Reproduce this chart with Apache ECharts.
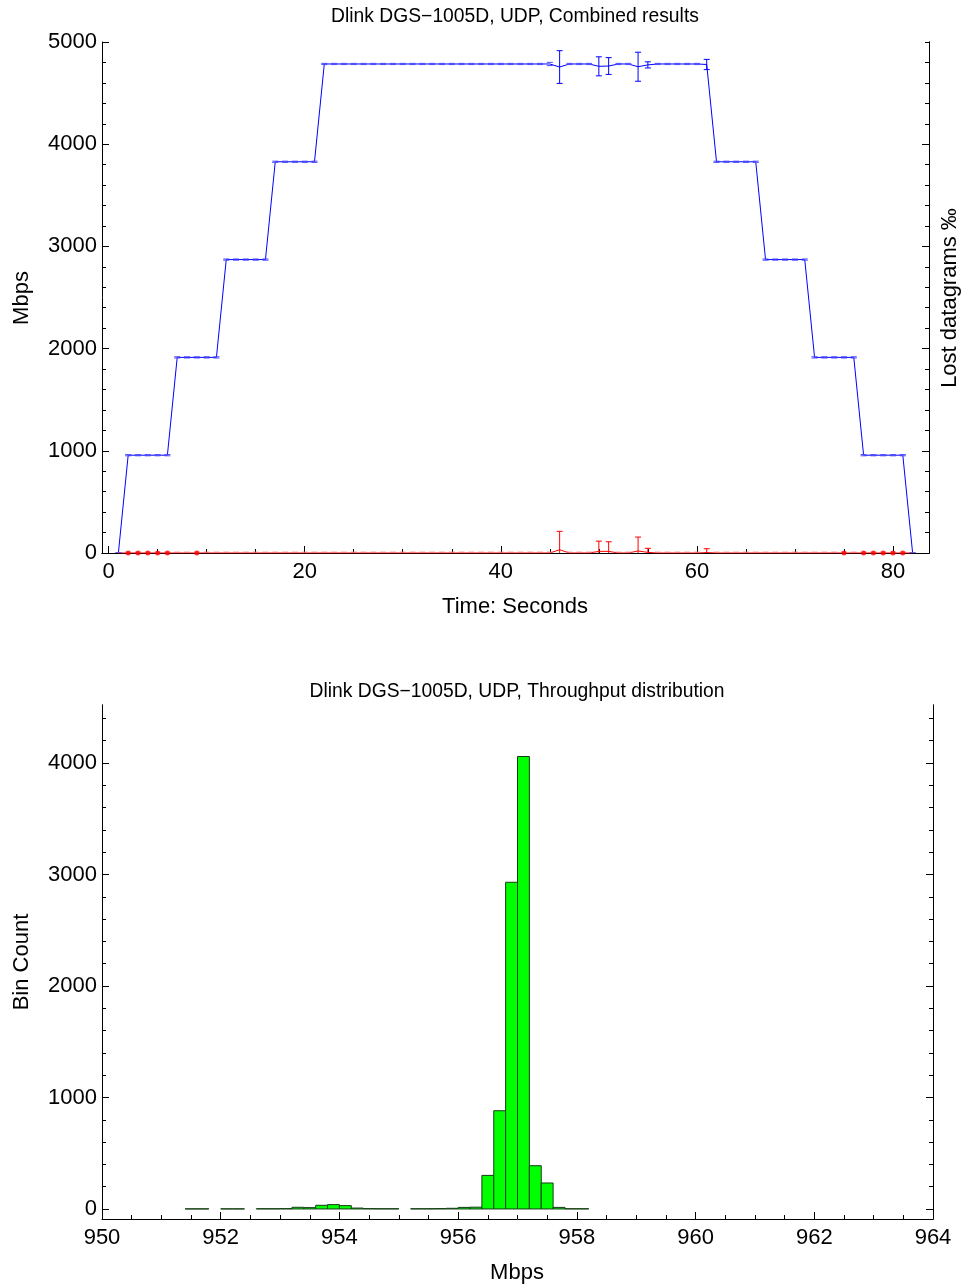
<!DOCTYPE html>
<html><head><meta charset="utf-8">
<script src="https://cdn.jsdelivr.net/npm/echarts@6/dist/echarts.min.js"></script>
<style>html,body{margin:0;padding:0;background:#fff}#c{width:962px;height:1287px}</style>
</head><body><div id="c"></div>
<script>
// ---------- data: top chart (per-second samples) ----------
const times = [1,2,3,4,5,6,7,8,9,10,11,12,13,14,15,16,17,18,19,20,21,22,23,24,25,26,27,28,29,30,31,32,33,34,35,36,37,38,39,40,41,42,43,44,45,46,47,48,49,50,51,52,53,54,55,56,57,58,59,60,61,62,63,64,65,66,67,68,69,70,71,72,73,74,75,76,77,78,79,80,81,82];
const throughput = [
  0,
  957,957,957,957,957,
  1914,1914,1914,1914,1914,
  2871,2871,2871,2871,2871,
  3828,3828,3828,3828,3828,
  4785,4785,4785,4785,4785,4785,4785,4785,4785,4785,4785,4785,4785,4785,4785,4785,4785,4785,4785,4785,4785,4785,4785,
  4785,4755,4785,4785,4785,4762,4765,4785,4785,4758,4776,4785,4785,4785,4785,4785,4780,
  3828,3828,3828,3828,3828,
  2871,2871,2871,2871,2871,
  1914,1914,1914,1914,1914,
  957,957,957,957,957,
  0];
const throughputErr = [
  0,
  6,6,6,6,6,
  6,6,6,6,6,
  6,6,6,6,6,
  6,6,6,6,6,
  6,6,6,6,6,6,6,6,6,6,6,6,6,6,6,6,6,6,6,6,6,6,6,
  16,160,6,6,6,93,82,6,6,142,30,6,6,6,6,6,50,
  6,6,6,6,6,
  6,6,6,6,6,
  6,6,6,6,6,
  6,6,6,6,6,
  0];
const lost = [
  0,
  0,0,0,0,0,
  0,0,0,0,0,
  0,0,0,0,0,
  0,0,0,0,0,
  0,0,0,0,0,0,0,0,0,0,0,0,0,0,0,0,0,0,0,0,0,0,0,
  0,0.016,0,0,0,0.008,0.008,0,0,0.01,0.003,0,0,0,0,0,0.002,
  0,0,0,0,0,
  0,0,0,0,0,
  0,0,0,0,0,
  0,0,0,0,0,
  0];
const lostErr = [
  0,
  0.004,0.004,0.004,0.004,0.004,
  0.004,0.004,0.004,0.004,0.004,
  0.004,0.004,0.004,0.004,0.004,
  0.004,0.004,0.004,0.004,0.004,
  0.004,0.004,0.004,0.004,0.004,0.004,0.004,0.004,0.004,0.004,0.004,0.004,0.004,0.004,0.004,0.004,0.004,0.004,0.004,0.004,0.004,0.004,0.004,
  0.004,0.09,0.004,0.004,0.004,0.05,0.047,0.004,0.004,0.068,0.02,0.004,0.004,0.004,0.004,0.004,0.019,
  0.004,0.004,0.004,0.004,0.004,
  0.004,0.004,0.004,0.004,0.004,
  0.004,0.004,0.004,0.004,0.004,
  0.004,0.004,0.004,0.004,0.004,
  0];
const lostDotTimes = [2,3,4,5,6,9,75,77,78,79,80,81];

// ---------- data: histogram ----------
const binStart = [951.4,951.6,952.0,952.2,952.6,952.8,953.0,953.2,953.4,953.6,953.8,954.0,954.2,954.4,954.6,954.8,955.2,955.4,955.6,955.8,956.0,956.2,956.4,956.6,956.8,957.0,957.2,957.4,957.6,957.8,958.0];
const binCount = [1,1,1,1,2,2,3,15,12,33,39,30,8,3,2,2,2,2,3,6,14,16,301,881,2930,4058,388,233,14,2,2];
const binWidth = 0.2;

// ---------- ticks ----------
const timeTicks = [0,20,40,60,80];
const timeMinorTicks = [0,5,10,15,20,25,30,35,40,45,50,55,60,65,70,75,80];
const lostMajorTicks = [0.5,1.0,1.5,2.0];
const countTicks = [0,1000,2000,3000,4000];
const countMinorTicks = [0,200,400,600,800,1000,1200,1400,1600,1800,2000,2200,2400,2600,2800,3000,3200,3400,3600,3800,4000,4200,4400];

const FONT = 'Liberation Sans, Arial, sans-serif';
const BLACK = '#000';
const chart = echarts.init(document.getElementById('c'), null, {renderer:'canvas'});

function axisBase(extra) {
  return Object.assign({
    axisLine:{show:true,onZero:false,lineStyle:{color:BLACK,width:1}},
    splitLine:{show:false},
    minorSplitLine:{show:false}
  }, extra);
}
const plain = v => String(v);
const lbl = (extra) => Object.assign({color:BLACK,fontFamily:FONT,fontSize:22,formatter:plain}, extra);

function errRender(color, lightColor, capHalf) {
  return function(params, api) {
    const t = api.value(0), v = api.value(1), e = api.value(2);
    const lo = api.coord([t, v - e]), hi = api.coord([t, v + e]);
    const x = lo[0];
    const big = Math.abs(lo[1] - hi[1]) > 4;
    const c = big ? color : lightColor;
    const children = [];
    if (big) children.push({type:'line',shape:{x1:x,y1:lo[1],x2:x,y2:hi[1]},style:{stroke:c,lineWidth:1}});
    children.push({type:'line',shape:{x1:x-capHalf,y1:lo[1],x2:x+capHalf,y2:lo[1]},style:{stroke:c,lineWidth:1}});
    children.push({type:'line',shape:{x1:x-capHalf,y1:hi[1],x2:x+capHalf,y2:hi[1]},style:{stroke:c,lineWidth:1}});
    return {type:'group',children};
  };
}

const blueLine = times.map((t,i)=>[t, throughput[i]]);
const blueErr = times.map((t,i)=>[t, throughput[i], throughputErr[i]]);
const redLine = times.map((t,i)=>[t, lost[i]]);
const redErr = times.map((t,i)=>[t, lost[i], lostErr[i]]);
const redDots = lostDotTimes.map(t=>[t, lost[times.indexOf(t)]]);
const histData = binStart.map((s,i)=>[s, binCount[i]]).filter(d=>d[1]>0);

const option = {
  animation:false,
  backgroundColor:'#fff',
  grid:[
    {left:102, top:42, width:827, height:511, containLabel:false},
    {left:102, top:705, width:831, height:514, containLabel:false}
  ],
  xAxis:[
    axisBase({type:'value',gridIndex:0,position:'bottom',min:-0.67,max:83.67,
      axisTick:{show:true,inside:true,length:7,customValues:timeTicks,lineStyle:{color:BLACK}},
      axisLabel:lbl({customValues:timeTicks,margin:8})}),
    axisBase({type:'value',gridIndex:0,position:'bottom',min:-0.67,max:83.67,
      axisTick:{show:true,inside:true,length:4,customValues:timeMinorTicks,lineStyle:{color:BLACK}},
      axisLabel:{show:false}}),
    axisBase({type:'value',gridIndex:1,position:'bottom',min:950,max:964,interval:2,
      axisTick:{show:true,inside:true,length:7,lineStyle:{color:BLACK}},
      minorTick:{show:true,splitNumber:4,length:4,lineStyle:{color:BLACK}},
      axisLabel:lbl({margin:8,showMinLabel:true,showMaxLabel:true})})
  ],
  yAxis:[
    axisBase({type:'value',gridIndex:0,position:'left',min:0,max:5000,interval:1000,
      axisTick:{show:true,inside:true,length:7,lineStyle:{color:BLACK}},
      minorTick:{show:true,splitNumber:5,length:4,lineStyle:{color:BLACK}},
      axisLabel:lbl({margin:5})}),
    axisBase({type:'value',gridIndex:0,position:'right',min:0,max:2.5,
      axisTick:{show:true,inside:true,length:7,customValues:lostMajorTicks,lineStyle:{color:BLACK}},
      axisLabel:{show:false}}),
    axisBase({type:'value',gridIndex:0,position:'right',min:0,max:2.5,interval:0.1,
      axisTick:{show:true,inside:true,length:4,lineStyle:{color:BLACK}},
      axisLabel:{show:false}}),
    axisBase({type:'value',gridIndex:1,position:'left',min:-90,max:4520,
      axisTick:{show:true,inside:true,length:7,customValues:countTicks,lineStyle:{color:BLACK}},
      axisLabel:lbl({customValues:countTicks,margin:5})}),
    axisBase({type:'value',gridIndex:1,position:'left',min:-90,max:4520,
      axisTick:{show:true,inside:true,length:4,customValues:countMinorTicks,lineStyle:{color:BLACK}},
      axisLabel:{show:false}}),
    axisBase({type:'value',gridIndex:1,position:'right',min:-90,max:4520,
      axisTick:{show:true,inside:true,length:7,customValues:countTicks,lineStyle:{color:BLACK}},
      axisLabel:{show:false}}),
    axisBase({type:'value',gridIndex:1,position:'right',min:-90,max:4520,
      axisTick:{show:true,inside:true,length:4,customValues:countMinorTicks,lineStyle:{color:BLACK}},
      axisLabel:{show:false}})
  ],
  series:[
    {type:'line',xAxisIndex:0,yAxisIndex:1,data:redLine,showSymbol:false,symbol:'none',
      lineStyle:{color:'#ff0000',width:1},z:3},
    {type:'custom',xAxisIndex:0,yAxisIndex:1,data:redErr,clip:true,
      renderItem:errRender('#ff0000','#ff7070',3),z:4},
    {type:'scatter',xAxisIndex:0,yAxisIndex:1,data:redDots,symbol:'circle',symbolSize:5,
      itemStyle:{color:'#ff0000'},z:5},
    {type:'line',xAxisIndex:0,yAxisIndex:0,data:blueLine,showSymbol:false,symbol:'none',
      lineStyle:{color:'#0000ff',width:1},z:3},
    {type:'custom',xAxisIndex:0,yAxisIndex:0,data:blueErr,clip:true,
      renderItem:errRender('#0000ff','#4a4aff',3),z:4},
    {type:'custom',xAxisIndex:2,yAxisIndex:3,data:histData,clip:true,
      renderItem:function(params, api){
        const x0 = api.value(0), c = api.value(1);
        const p0 = api.coord([x0, c]);
        const p1 = api.coord([x0 + binWidth, 0]);
        return {type:'rect',shape:{x:p0[0],y:p0[1],width:p1[0]-p0[0],height:p1[1]-p0[1]},
          style:{fill:'#00ff00',stroke:'#143c14',lineWidth:1}};
      },z:3}
  ],
  graphic:[
    {type:'text',x:515,y:17,style:{text:'Dlink DGS\u22121005D, UDP, Combined results',font:'19.3px '+FONT,fill:BLACK,align:'center',verticalAlign:'middle'}},
    {type:'text',x:515,y:607,style:{text:'Time: Seconds',font:'22px '+FONT,fill:BLACK,align:'center',verticalAlign:'middle'}},
    {type:'text',x:22,y:298,rotation:Math.PI/2,style:{text:'Mbps',font:'22px '+FONT,fill:BLACK,align:'center',verticalAlign:'middle'}},
    {type:'text',x:950,y:298,rotation:Math.PI/2,style:{text:'Lost datagrams \u2030',font:'22px '+FONT,fill:BLACK,align:'center',verticalAlign:'middle'}},
    {type:'text',x:517,y:692,style:{text:'Dlink DGS\u22121005D, UDP, Throughput distribution',font:'19.3px '+FONT,fill:BLACK,align:'center',verticalAlign:'middle'}},
    {type:'text',x:22,y:962,rotation:Math.PI/2,style:{text:'Bin Count',font:'22px '+FONT,fill:BLACK,align:'center',verticalAlign:'middle'}},
    {type:'text',x:517,y:1273,style:{text:'Mbps',font:'22px '+FONT,fill:BLACK,align:'center',verticalAlign:'middle'}}
  ]
};
chart.setOption(option);
</script>
</body></html>
